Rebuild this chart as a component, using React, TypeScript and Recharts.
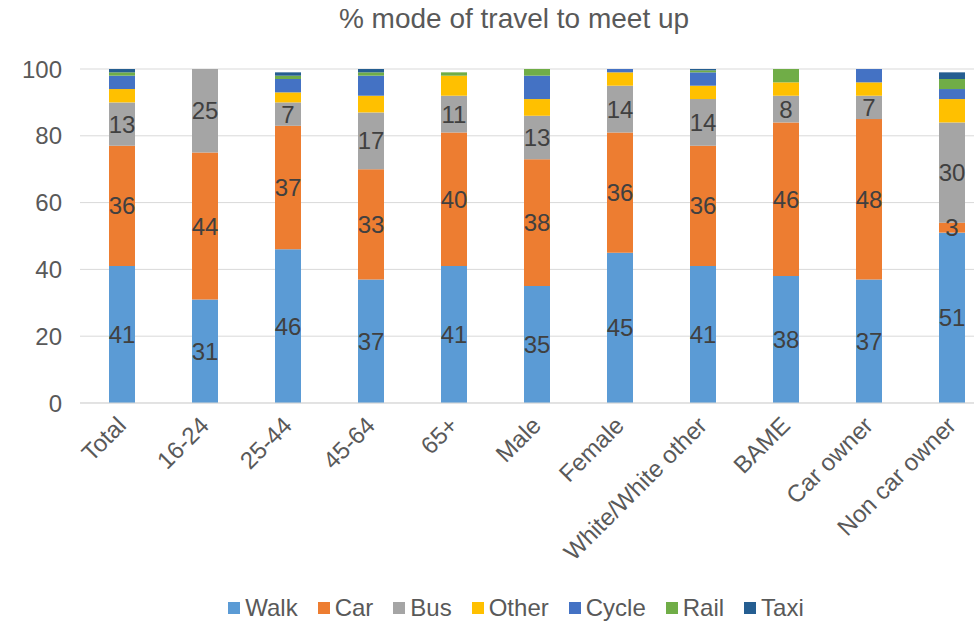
import React from "react";
import { BarChart, Bar, XAxis, YAxis, CartesianGrid, LabelList, Legend } from "recharts";

// ── data ───────────────────────────────────────────────────────────────────
const categories = [
  "Total", "16-24", "25-44", "45-64", "65+", "Male", "Female",
  "White/White other", "BAME", "Car owner", "Non car owner",
];
const walk = [41, 31, 46, 37, 41, 35, 45, 41, 38, 37, 51];
const car = [36, 44, 37, 33, 40, 38, 36, 36, 46, 48, 3];
const bus = [13, 25, 7, 17, 11, 13, 14, 14, 8, 7, 30];
const other = [4, 0, 3, 5, 6, 5, 4, 4, 4, 4, 7];
const cycle = [4, 0, 4, 6, 0, 7, 1, 4, 0, 4, 3];
const rail = [1, 0, 1, 1, 1, 2, 0, 0.6, 4, 0, 3];
const taxi = [1, 0, 1, 1, 0, 0, 0, 0.4, 0, 0, 2];
const yTicks = [0, 20, 40, 60, 80, 100];

const series = [
  { key: "Walk", values: walk, color: "#5B9BD5", label: true },
  { key: "Car", values: car, color: "#ED7D31", label: true },
  { key: "Bus", values: bus, color: "#A5A5A5", label: true },
  { key: "Other", values: other, color: "#FFC000", label: false },
  { key: "Cycle", values: cycle, color: "#4472C4", label: false },
  { key: "Rail", values: rail, color: "#70AD47", label: false },
  { key: "Taxi", values: taxi, color: "#255E91", label: false },
];

const rows = categories.map((name, i) => {
  const row: Record<string, string | number> = { name };
  series.forEach((s) => (row[s.key] = s.values[i]));
  return row;
});

const FONT = "'Liberation Sans', Arial, sans-serif";
const TEXT = "#595959";

function CategoryTick({ x, y, payload }: any) {
  const ax = x + 6;
  const ay = y + 24;
  return (
    <text
      x={ax}
      y={ay}
      transform={`rotate(-45 ${ax} ${ay})`}
      textAnchor="end"
      fill={TEXT}
      fontSize={24}
      fontFamily={FONT}
    >
      {payload.value}
    </text>
  );
}

function LegendRow() {
  return (
    <div style={{ display: "flex", justifyContent: "center", fontFamily: FONT, fontSize: 24, color: TEXT, lineHeight: "26px" }}>
      {series.map((s) => (
        <div key={s.key} style={{ display: "flex", alignItems: "center", margin: "0 10px" }}>
          <span style={{ width: 12, height: 12, background: s.color, display: "inline-block", marginRight: 5 }} />
          <span>{s.key}</span>
        </div>
      ))}
    </div>
  );
}

export default function App() {
  return (
    <div style={{ position: "absolute", left: 0, top: 0, width: 974, height: 621, overflow: "hidden", background: "#fff" }}>
      <div
        style={{
          position: "absolute", left: 0, width: 1028, top: 3, textAlign: "center",
          fontFamily: FONT, fontSize: 28, color: TEXT,
        }}
      >
        % mode of travel to meet up
      </div>
      <BarChart
        width={1028}
        height={621}
        data={rows}
        margin={{ top: 69, right: 35, left: 0, bottom: 0 }}
        barSize={26}
      >
        <CartesianGrid vertical={false} stroke="#D9D9D9" />
        <XAxis
          dataKey="name"
          interval={0}
          height={192}
          tickSize={0}
          tickMargin={0}
          tickLine={false}
          axisLine={{ stroke: "#D9D9D9" }}
          tick={<CategoryTick />}
        />
        <YAxis
          width={80}
          domain={[0, 100]}
          ticks={yTicks}
          tickSize={0}
          tickMargin={18}
          tickLine={false}
          axisLine={false}
          tick={{ fill: TEXT, fontSize: 24, fontFamily: FONT }}
        />
        {series.map((s) => (
          <Bar key={s.key} dataKey={s.key} stackId="mode" fill={s.color} isAnimationActive={false}>
            {s.label && (
              <LabelList dataKey={s.key} position="center" fill="#404040" fontSize={24} fontFamily={FONT} />
            )}
          </Bar>
        ))}
        <Legend
          verticalAlign="bottom"
          wrapperStyle={{ left: 0, width: 1032 }}
          content={() => <LegendRow />}
        />
      </BarChart>
    </div>
  );
}
